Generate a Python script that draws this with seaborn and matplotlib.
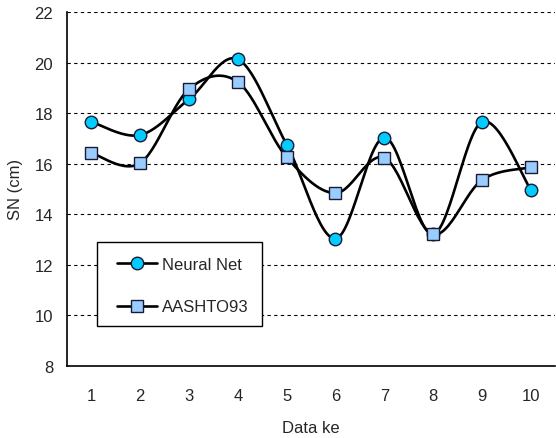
import numpy as np
import pandas as pd
import matplotlib
matplotlib.use("Agg")
import matplotlib.pyplot as plt
import seaborn as sns
from matplotlib.lines import Line2D
from matplotlib.patches import Rectangle

categories = ["1", "2", "3", "4", "5", "6", "7", "8", "9", "10"]
neural_net = [17.65, 17.13, 18.55, 20.13, 16.75, 13.03, 17.03, 13.2, 17.65, 14.97]
aashto93 = [16.42, 16.02, 18.95, 19.23, 16.25, 14.83, 16.23, 13.2, 15.35, 15.85]
y_ticks = [8, 10, 12, 14, 16, 18, 20, 22]

sns.set_style("white")
plt.rcParams['font.family'] = ['Liberation Sans', 'DejaVu Sans']
FS = 12


def smooth(xs, ys, n=30):
    xs = np.asarray(xs, float)
    ys = np.asarray(ys, float)
    P = np.column_stack([xs, ys])
    P = np.vstack([P[0], P, P[-1]])
    out = []
    t = np.linspace(0, 1, n)[:, None]
    for i in range(1, len(P) - 2):
        p0, p1, p2, p3 = P[i - 1], P[i], P[i + 1], P[i + 2]
        c1 = p1 + (p2 - p0) / 6
        c2 = p2 - (p3 - p1) / 6
        seg = ((1 - t) ** 3) * p1 + 3 * ((1 - t) ** 2) * t * c1 + 3 * (1 - t) * t ** 2 * c2 + t ** 3 * p2
        out.append(seg if i == 1 else seg[1:])
    s = np.vstack(out)
    return s[:, 0], s[:, 1]


fig = plt.figure(figsize=(5.56, 4.39), dpi=100)
ax = fig.add_axes([0.1205, 0.1647, 0.878, 0.8057])

x = np.arange(len(categories))
series = [("Neural Net", neural_net, "o", "#00CCFF", 9.0),
          ("AASHTO93", aashto93, "s", "#99CCFF", 9.0)]

handles = []
for name, vals, mk, col, ms in series:
    sx, sy = smooth(x, vals)
    sns.lineplot(x=sx, y=sy, ax=ax, color="black", linewidth=1.9, sort=False, estimator=None, zorder=2)
    ax.plot(x, vals, linestyle="none", marker=mk, markersize=ms, markerfacecolor=col,
            markeredgecolor="#1a1a33", markeredgewidth=1.0, zorder=3)
    handles.append(Line2D([0], [0], color="black", linewidth=1.9, marker=mk, markersize=ms,
                          markerfacecolor=col, markeredgecolor="#1a1a33", markeredgewidth=1.0))

ax.set_xlim(-0.5, len(categories) - 0.5)
ax.set_ylim(8, 22)
ax.set_yticks(y_ticks)
ax.set_yticklabels([str(v) for v in y_ticks], fontsize=FS)
ax.set_xticks(x)
ax.set_xticklabels(categories, fontsize=FS)
ax.set_xticks(np.arange(-0.5, len(categories)), minor=True)
ax.tick_params(axis="x", which="major", length=0, pad=16)
ax.tick_params(axis="x", which="minor", length=5, width=1, color="black", direction="out")
ax.tick_params(axis="y", which="major", length=5, width=1, color="black", direction="out", pad=5)

for v in y_ticks[1:]:
    ax.axhline(v, color="black", linestyle=(0, (3, 3)), linewidth=0.8, zorder=1)

for s in ["top", "right"]:
    ax.spines[s].set_visible(False)
for s in ["left", "bottom"]:
    ax.spines[s].set_color("black")
    ax.spines[s].set_linewidth(1.2)

ax.set_xlabel("Data ke", fontsize=FS, labelpad=12)
ax.set_ylabel("SN (cm)", fontsize=FS, labelpad=8)

# legend frame box
ax.add_patch(Rectangle((0.0612, 0.112), 0.3388, 0.238, transform=ax.transAxes,
                       facecolor="white", edgecolor="black", linewidth=1.0, zorder=4))
leg = ax.legend(handles, [s[0] for s in series], loc="upper left",
                bbox_to_anchor=(0.102, 0.308), fontsize=FS, frameon=False,
                handlelength=2.4, labelspacing=1.66, borderpad=0,
                handletextpad=0.3, borderaxespad=0)
leg.set_zorder(5)

fig.savefig("out.png", dpi=100)
